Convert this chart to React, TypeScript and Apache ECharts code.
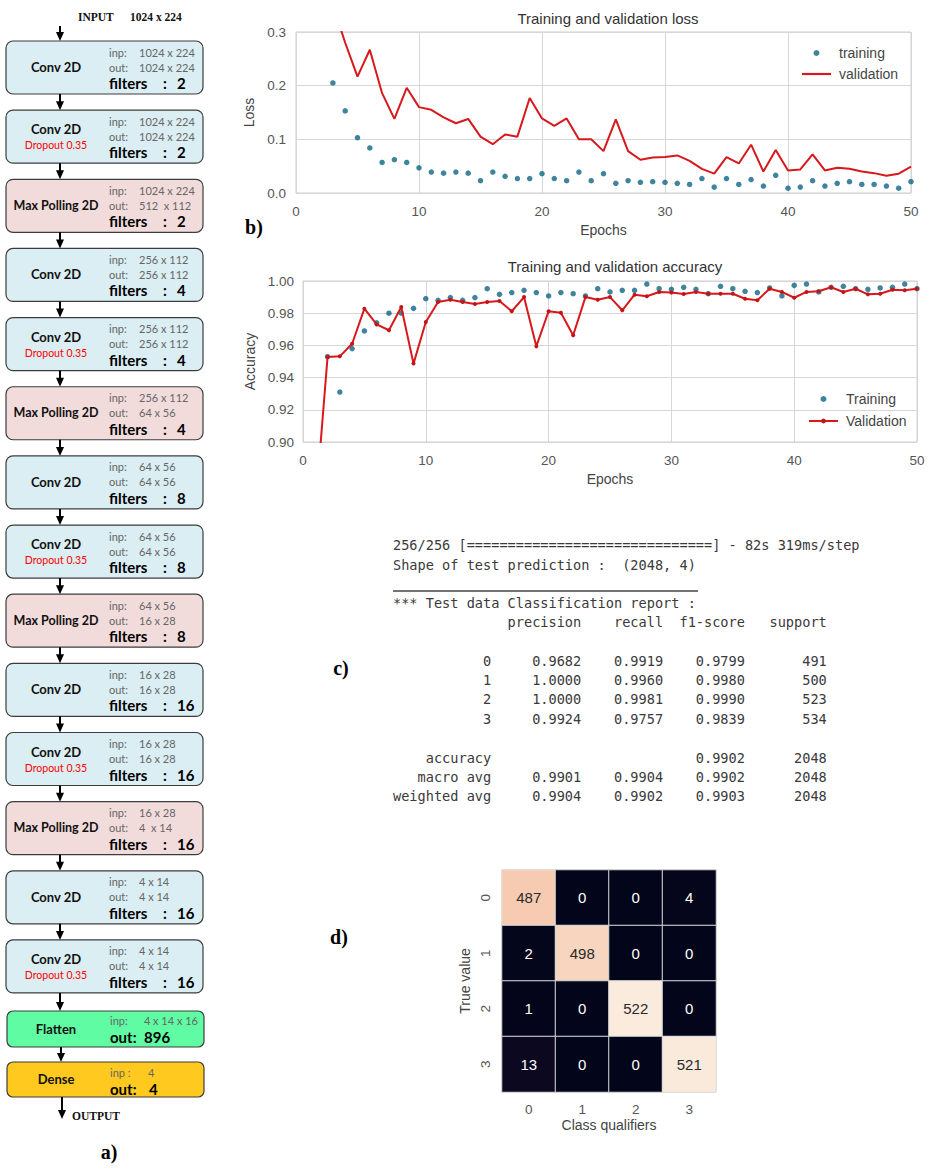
import React, { useEffect, useRef } from 'react';
import * as echarts from 'echarts';

// ---------- data ----------
const lossTrainStart = 3;
const lossTraining = [0.205, 0.153, 0.103, 0.084, 0.057, 0.062, 0.057, 0.047, 0.039, 0.037, 0.039, 0.037, 0.023, 0.039, 0.031, 0.027, 0.027, 0.036, 0.027, 0.023, 0.039, 0.023, 0.036, 0.018, 0.023, 0.020, 0.021, 0.020, 0.018, 0.016, 0.027, 0.011, 0.027, 0.016, 0.025, 0.013, 0.033, 0.009, 0.011, 0.023, 0.013, 0.018, 0.021, 0.016, 0.016, 0.013, 0.009, 0.021];
const lossValStart = 3;
const lossValidation = [0.35, 0.28, 0.217, 0.267, 0.186, 0.138, 0.196, 0.16, 0.155, 0.141, 0.13, 0.138, 0.105, 0.091, 0.109, 0.105, 0.177, 0.139, 0.125, 0.139, 0.1, 0.1, 0.078, 0.137, 0.078, 0.062, 0.066, 0.067, 0.07, 0.06, 0.045, 0.036, 0.067, 0.055, 0.09, 0.04, 0.08, 0.042, 0.044, 0.072, 0.042, 0.047, 0.045, 0.04, 0.037, 0.032, 0.036, 0.049];
const accTrainStart = 2;
const accTraining = [0.953, 0.931, 0.958, 0.969, 0.974, 0.980, 0.980, 0.983, 0.989, 0.988, 0.9897, 0.988, 0.9897, 0.9952, 0.9917, 0.9928, 0.9942, 0.9928, 0.9907, 0.9928, 0.9921, 0.9907, 0.9952, 0.9932, 0.9942, 0.9942, 0.9981, 0.9952, 0.9948, 0.9961, 0.9948, 0.9921, 0.9967, 0.9952, 0.9936, 0.9928, 0.9957, 0.9907, 0.9973, 0.9981, 0.9932, 0.9961, 0.9967, 0.9952, 0.9948, 0.9957, 0.9961, 0.9981, 0.9952];
const accValStart = 1;
const accValidation = [0.858, 0.9528, 0.9532, 0.961, 0.9828, 0.973, 0.9694, 0.9838, 0.9487, 0.9745, 0.987, 0.9884, 0.987, 0.9857, 0.987, 0.9876, 0.9812, 0.99, 0.9594, 0.9812, 0.9803, 0.9663, 0.99, 0.9884, 0.99, 0.9818, 0.9915, 0.9905, 0.9932, 0.9928, 0.9919, 0.9932, 0.9921, 0.9921, 0.9921, 0.989, 0.988, 0.9952, 0.9932, 0.9896, 0.9932, 0.9936, 0.9961, 0.9932, 0.9952, 0.9917, 0.9921, 0.9946, 0.9942, 0.9952];

const cmLabels = ['0', '1', '2', '3'];
const confusion = [
  [487, 0, 0, 4],
  [2, 498, 0, 0],
  [1, 0, 522, 0],
  [13, 0, 0, 521],
];

const reportClasses = ['0', '1', '2', '3'];
const precision = [0.9682, 1.0, 1.0, 0.9924];
const recall = [0.9919, 0.996, 0.9981, 0.9757];
const f1score = [0.9799, 0.998, 0.999, 0.9839];
const support = [491, 500, 523, 534];
const accuracyScore = 0.9902;
const totalSupport = 2048;
const macroAvg = [0.9901, 0.9904, 0.9902];
const weightedAvg = [0.9904, 0.9902, 0.9903];
const progressLine = '256/256 [' + '='.repeat(30) + '] - 82s 319ms/step';
const shapeLine = 'Shape of test prediction :  (2048, 4)';
const reportTitle = '*** Test data Classification report :';

const layerTypes = ['Conv 2D', 'Conv 2D', 'Max Polling 2D', 'Conv 2D', 'Conv 2D', 'Max Polling 2D', 'Conv 2D', 'Conv 2D', 'Max Polling 2D', 'Conv 2D', 'Conv 2D', 'Max Polling 2D', 'Conv 2D', 'Conv 2D'];
const layerDropout = [false, true, false, false, true, false, false, true, false, false, true, false, false, true];
const layerInp = ['1024 x 224', '1024 x 224', '1024 x 224', '256 x 112', '256 x 112', '256 x 112', '64 x 56', '64 x 56', '64 x 56', '16 x 28', '16 x 28', '16 x 28', '4 x 14', '4 x 14'];
const layerOut = ['1024 x 224', '1024 x 224', '512  x 112', '256 x 112', '256 x 112', '64 x 56', '64 x 56', '64 x 56', '16 x 28', '16 x 28', '16 x 28', '4  x 14', '4 x 14', '4 x 14'];
const layerFilters = [2, 2, 2, 4, 4, 4, 8, 8, 8, 16, 16, 16, 16, 16];
const flattenInp = '4 x 14 x 16';
const flattenOut = '896';
const denseInp = '4';
const denseOut = '4';
const inputShape = '1024 x 224';

// ---------- helpers ----------
const SANS = 'Liberation Sans';
const padL = (s: string, w: number) => (s.length >= w ? s : ' '.repeat(w - s.length) + s);

function reportLines(): string[] {
  const W = 12;
  const lines: string[] = [];
  lines.push(reportTitle);
  lines.push(padL('', W) + ' ' + ['precision', 'recall', 'f1-score', 'support'].map((h) => ' ' + padL(h, 9)).join(''));
  lines.push('');
  reportClasses.forEach((c, i) => {
    lines.push(
      padL(c, W) + ' ' + [precision[i], recall[i], f1score[i]].map((v) => ' ' + padL(v.toFixed(4), 9)).join('') + ' ' + padL(String(support[i]), 9)
    );
  });
  lines.push('');
  lines.push(padL('accuracy', W) + ' ' + ' ' + padL('', 9) + ' ' + padL('', 9) + ' ' + padL(accuracyScore.toFixed(4), 9) + ' ' + padL(String(totalSupport), 9));
  lines.push(padL('macro avg', W) + ' ' + macroAvg.map((v) => ' ' + padL(v.toFixed(4), 9)).join('') + ' ' + padL(String(totalSupport), 9));
  lines.push(padL('weighted avg', W) + ' ' + weightedAvg.map((v) => ' ' + padL(v.toFixed(4), 9)).join('') + ' ' + padL(String(totalSupport), 9));
  return lines;
}

function txt(text: string, x: number, y: number, font: string, fill: string, align = 'left', valign = 'middle', extra: any = {}) {
  return {
    type: 'text',
    x,
    y,
    silent: true,
    style: { text, font, fill, align, verticalAlign: valign, textAlign: align, textVerticalAlign: valign, ...extra },
  };
}

function arrow(x: number, y1: number, y2: number) {
  return [
    { type: 'line', silent: true, shape: { x1: x, y1, x2: x, y2: y2 - 7 }, style: { stroke: '#000', lineWidth: 2 } },
    { type: 'polygon', silent: true, shape: { points: [[x - 4, y2 - 9], [x + 4, y2 - 9], [x, y2]] }, style: { fill: '#000' } },
  ];
}

function diagramElements(): any[] {
  const els: any[] = [];
  const left = 6;
  const width = 197;
  const h = 53;
  const step = 69.15;
  const top0 = 41;
  const GREY = '#666666';
  const LBL = 'Lato';
  const SMALL = `11px ${LBL}`;
  els.push(txt('INPUT', 78, 17, 'bold 11.5px "Liberation Serif"', '#111'));
  els.push(txt(inputShape, 130, 17, 'bold 11.5px "Liberation Serif"', '#111'));
  els.push(...arrow(60, 26, top0));
  layerTypes.forEach((type, i) => {
    const top = top0 + i * step;
    const isPool = type.indexOf('Max') === 0;
    els.push({
      type: 'rect',
      silent: true,
      shape: { x: left, y: top, width, height: h, r: 7 },
      style: { fill: isPool ? '#F2DCDB' : '#DAEEF3', stroke: '#3c3c3c', lineWidth: 1.2 },
    });
    if (layerDropout[i]) {
      els.push(txt(type, 56, top + 19, `bold ${isPool ? 12.5 : 13}px ${LBL}`, '#111', 'center'));
      els.push(txt('Dropout 0.35', 56, top + 35, `10.5px ${LBL}`, '#ff0000', 'center'));
    } else {
      els.push(txt(type, 56, top + 26, `bold ${isPool ? 12.5 : 13}px ${LBL}`, '#111', 'center'));
    }
    els.push(txt('inp:', 109, top + 11, SMALL, GREY));
    els.push(txt(layerInp[i], 139, top + 11, SMALL, GREY));
    els.push(txt('out:', 109, top + 26, SMALL, GREY));
    els.push(txt(layerOut[i], 139, top + 26, SMALL, GREY));
    els.push(txt('filters', 109, top + 42, `bold 15px ${LBL}`, '#000'));
    els.push(txt(':', 163, top + 42, `bold 15px ${LBL}`, '#000'));
    els.push(txt(String(layerFilters[i]), 177, top + 42, `bold 15px ${LBL}`, '#000'));
    const nextTop = i < layerTypes.length - 1 ? top0 + (i + 1) * step : 1011;
    els.push(...arrow(60, top + h, nextTop));
  });
  const fTop = 1011;
  els.push({ type: 'rect', silent: true, shape: { x: 7, y: fTop, width: 197, height: 36, r: 6 }, style: { fill: '#5FFCA4', stroke: '#3c3c3c', lineWidth: 1.2 } });
  els.push(txt('Flatten', 56, fTop + 18, `bold 13px ${LBL}`, '#111', 'center'));
  els.push(txt('inp:', 110, fTop + 9, SMALL, GREY));
  els.push(txt(flattenInp, 198, fTop + 9, SMALL, GREY, 'right'));
  els.push(txt('out:', 110, fTop + 26, `bold 15px ${LBL}`, '#000'));
  els.push(txt(flattenOut, 144, fTop + 26, `bold 15px ${LBL}`, '#000'));
  const dTop = 1062;
  els.push(...arrow(61, fTop + 36, dTop));
  els.push({ type: 'rect', silent: true, shape: { x: 7, y: dTop, width: 197, height: 35, r: 6 }, style: { fill: '#FFC91F', stroke: '#3c3c3c', lineWidth: 1.2 } });
  els.push(txt('Dense', 56, dTop + 17, `bold 13px ${LBL}`, '#111', 'center'));
  els.push(txt('inp :', 110, dTop + 10, SMALL, GREY));
  els.push(txt(denseInp, 148, dTop + 10, SMALL, GREY));
  els.push(txt('out:', 110, dTop + 27, `bold 15px ${LBL}`, '#000'));
  els.push(txt(denseOut, 149, dTop + 27, `bold 15px ${LBL}`, '#000'));
  els.push(...arrow(62, dTop + 35, 1119));
  els.push(txt('OUTPUT', 72, 1116, 'bold 11.5px "Liberation Serif"', '#111'));
  return els;
}

function reportElements(): any[] {
  const els: any[] = [];
  const FONT = '13.6px "DejaVu Sans Mono"';
  const C = '#3a3a3a';
  const x0 = 393;
  els.push(txt(progressLine, x0, 545, FONT, C));
  els.push(txt(shapeLine, x0, 565, FONT, C));
  els.push({ type: 'line', silent: true, shape: { x1: x0, y1: 591, x2: 698, y2: 591 }, style: { stroke: '#444', lineWidth: 1.5 } });
  reportLines().forEach((l, i) => {
    if (l) els.push(txt(l, x0, 602.7 + i * 19.35, FONT, C, 'left', 'middle', { whiteSpace: 'pre' }));
  });
  return els;
}

function figureLabels(): any[] {
  const F = 'bold 20px "Liberation Serif"';
  return [
    txt('a)', 109, 1152, F, '#000', 'center'),
    txt('b)', 254, 227, F, '#000', 'center'),
    txt('c)', 341, 668, F, '#000', 'center'),
    txt('d)', 339, 937, F, '#000', 'center'),
  ];
}

const rocket = ['#03051A', '#221331', '#451C47', '#6A1F56', '#921C5B', '#B91657', '#DD2C45', '#F06043', '#F5936A', '#F6BC9C', '#FAEBDD'];
const LINE_ICON = 'path://M0,0L29,0L29,2.2L0,2.2Z';

function buildOption(): any {
  const gridLine = { show: true, lineStyle: { color: '#d6d6d6', width: 1 } };
  const tickLabel = { color: '#555', fontSize: 13.5, fontFamily: SANS };
  const nameStyle = { color: '#444', fontSize: 14, fontFamily: SANS };
  let cmMax = 0;
  confusion.forEach((r) => r.forEach((v) => (cmMax = Math.max(cmMax, v))));
  const cmData: any[] = [];
  confusion.forEach((row, yi) =>
    row.forEach((v, xi) => {
      cmData.push({ value: [xi, yi, v], label: { color: v > cmMax / 2 ? '#2a2a2a' : '#ffffff' } });
    })
  );
  const valueX = (gi: number) => ({
    gridIndex: gi,
    type: 'value',
    min: 0,
    max: 50,
    interval: 10,
    name: 'Epochs',
    nameLocation: 'middle',
    nameGap: 30,
    nameTextStyle: nameStyle,
    axisLine: { show: false },
    axisTick: { show: false },
    axisLabel: { ...tickLabel, margin: 11 },
    splitLine: gridLine,
  });
  const TRAIN_COLOR = '#0f6584';
  return {
    animation: false,
    backgroundColor: '#ffffff',
    textStyle: { fontFamily: SANS },
    title: [
      { text: 'Training and validation loss', left: 603, top: 6, textAlign: 'center', textStyle: { fontSize: 15, fontWeight: 'normal', color: '#333', fontFamily: SANS } },
      { text: 'Training and validation accuracy', left: 610, top: 254, textAlign: 'center', textStyle: { fontSize: 15, fontWeight: 'normal', color: '#333', fontFamily: SANS } },
    ],
    legend: [
      {
        orient: 'vertical', left: 797, top: 40, itemWidth: 29, itemHeight: 6, itemGap: 5, selectedMode: false,
        textStyle: { fontSize: 14, color: '#444', fontFamily: SANS, lineHeight: 16, padding: [0, 0, 0, 3] },
        data: [{ name: 'training', icon: 'circle' }, { name: 'validation', icon: LINE_ICON }],
      },
      {
        orient: 'vertical', left: 803, top: 386, itemWidth: 29, itemHeight: 6, itemGap: 6, selectedMode: false,
        textStyle: { fontSize: 14, color: '#444', fontFamily: SANS, lineHeight: 16, padding: [0, 0, 0, 3] },
        data: [{ name: 'Training', icon: 'circle' }, { name: 'Validation' }],
      },
    ],
    grid: [
      { left: 296, top: 32, width: 615, height: 161, show: true, borderColor: '#cfcfcf', borderWidth: 1, backgroundColor: '#fff' },
      { left: 303, top: 281, width: 614, height: 161, show: true, borderColor: '#cfcfcf', borderWidth: 1, backgroundColor: '#fff' },
      { left: 502, top: 870, width: 214, height: 222 },
    ],
    xAxis: [
      valueX(0),
      valueX(1),
      {
        gridIndex: 2, type: 'category', data: cmLabels, name: 'Class qualifiers', nameLocation: 'middle', nameGap: 26,
        nameTextStyle: nameStyle, axisLine: { show: false }, axisTick: { show: false },
        axisLabel: { ...tickLabel, margin: 10 }, splitLine: { show: false }, splitArea: { show: false },
      },
    ],
    yAxis: [
      {
        gridIndex: 0, type: 'value', min: 0, max: 0.3, interval: 0.1, name: 'Loss', nameLocation: 'middle', nameGap: 34, nameRotate: 90,
        nameTextStyle: nameStyle, axisLine: { show: false }, axisTick: { show: false },
        axisLabel: { ...tickLabel, margin: 10, formatter: (v: number) => v.toFixed(1) }, splitLine: gridLine,
      },
      {
        gridIndex: 1, type: 'value', min: 0.9, max: 1.0, interval: 0.02, name: 'Accuracy', nameLocation: 'middle', nameGap: 43, nameRotate: 90,
        nameTextStyle: nameStyle, axisLine: { show: false }, axisTick: { show: false },
        axisLabel: { ...tickLabel, margin: 9, formatter: (v: number) => v.toFixed(2) }, splitLine: gridLine,
      },
      {
        gridIndex: 2, type: 'category', data: cmLabels, inverse: true, name: 'True value', nameLocation: 'middle', nameGap: 30, nameRotate: 90,
        nameTextStyle: nameStyle, axisLine: { show: false }, axisTick: { show: false },
        axisLabel: { ...tickLabel, margin: 10, rotate: 90 }, splitLine: { show: false }, splitArea: { show: false },
      },
    ],
    visualMap: {
      type: 'continuous', show: false, seriesIndex: 4, dimension: 2, min: 0, max: cmMax,
      inRange: { color: rocket },
    },
    series: [
      {
        name: 'training', type: 'scatter', xAxisIndex: 0, yAxisIndex: 0, symbol: 'circle', symbolSize: 5.5,
        itemStyle: { color: TRAIN_COLOR }, data: lossTraining.map((v, i) => [i + lossTrainStart, v]),
      },
      {
        name: 'validation', type: 'line', xAxisIndex: 0, yAxisIndex: 0, symbol: 'none', clip: true,
        lineStyle: { color: '#d7191c', width: 2 }, itemStyle: { color: '#d7191c' },
        data: lossValidation.map((v, i) => [i + lossValStart, v]),
      },
      {
        name: 'Training', type: 'scatter', xAxisIndex: 1, yAxisIndex: 1, symbol: 'circle', symbolSize: 5.5,
        itemStyle: { color: TRAIN_COLOR }, data: accTraining.map((v, i) => [i + accTrainStart, v]),
      },
      {
        name: 'Validation', type: 'line', xAxisIndex: 1, yAxisIndex: 1, symbol: 'circle', symbolSize: 4, showSymbol: true, clip: true,
        lineStyle: { color: '#d7191c', width: 2 }, itemStyle: { color: '#c41418' },
        data: accValidation.map((v, i) => [i + accValStart, v]),
      },
      {
        name: 'confusion', type: 'heatmap', xAxisIndex: 2, yAxisIndex: 2,
        itemStyle: { borderColor: '#d9d9d9', borderWidth: 1 },
        label: { show: true, fontSize: 15, fontFamily: SANS },
        data: cmData,
      },
    ],
    graphic: { elements: [...diagramElements(), ...reportElements(), ...figureLabels()] },
  };
}

export default function App() {
  const ref = useRef<HTMLDivElement>(null);
  useEffect(() => {
    if (!ref.current) return;
    const chart = echarts.init(ref.current, undefined, { renderer: 'svg' });
    chart.setOption(buildOption());
    return () => chart.dispose();
  }, []);
  return <div ref={ref} style={{ position: 'absolute', left: 0, top: 0, width: 934, height: 1170, background: '#fff' }} />;
}
